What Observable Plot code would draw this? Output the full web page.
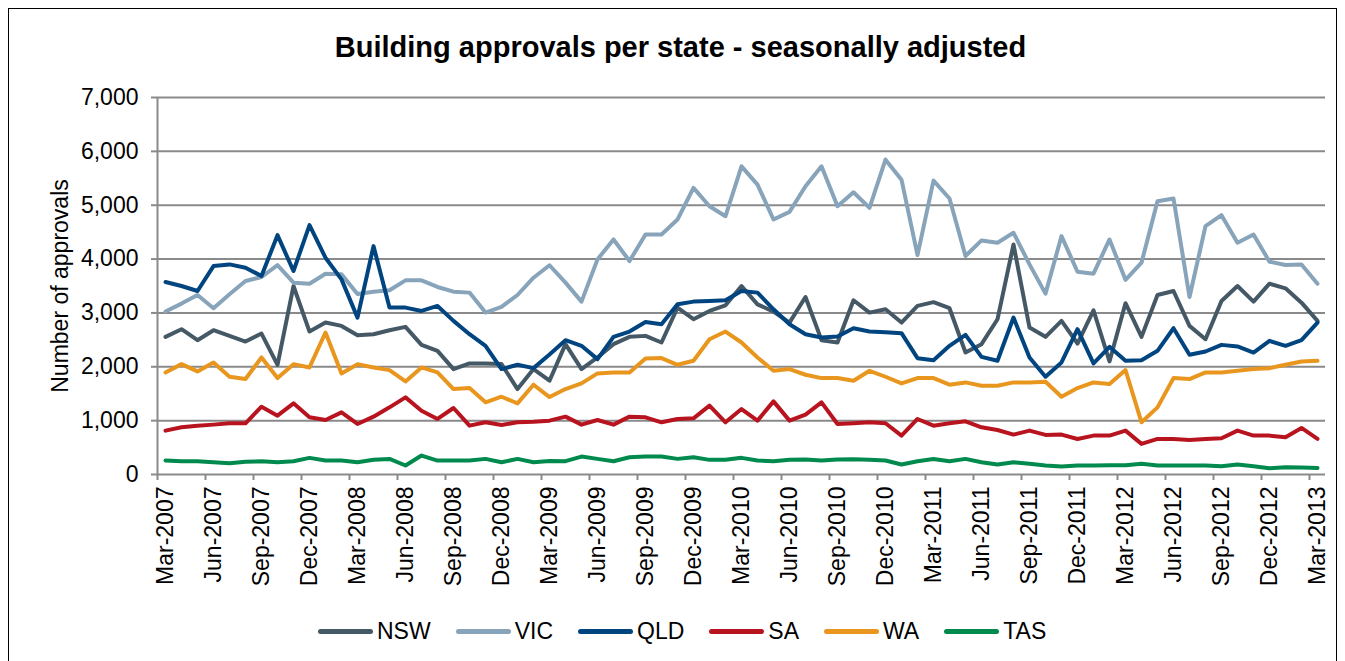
<!DOCTYPE html>
<html>
<head>
<meta charset="utf-8">
<script src="https://cdn.jsdelivr.net/npm/d3@7"></script>
<script src="https://cdn.jsdelivr.net/npm/@observablehq/plot@0.6"></script>
<style>
  body { margin: 0; background: #fff; font-family: "Liberation Sans", Arial, sans-serif; }
  #wrap { position: relative; width: 1345px; height: 661px; overflow: hidden; background: #fff; }
  #frame { position: absolute; left: 8px; top: 8px; width: 1327px; height: 700px; border: 1px solid #000; }
  #title { position: absolute; left: 8px; width: 1345px; top: 30px; text-align: center; font-weight: bold; font-size: 29px; line-height: 34px; color: #000; }
  #chart { position: absolute; left: 0; top: 70px; }
  #legend { position: absolute; left: 318px; top: 617px; display: flex; align-items: center; gap: 25px; font-size: 23px; line-height: 28px; color: #000; }
  .item { display: flex; align-items: center; gap: 4px; }
  .sw { width: 55px; height: 5px; border-radius: 3px; }
</style>
</head>
<body>
<div id="wrap">
  <div id="frame"></div>
  <div id="title">Building approvals per state - seasonally adjusted</div>
  <div id="chart"></div>
  <div id="legend"></div>
</div>
<script>
const states = ["NSW", "VIC", "QLD", "SA", "WA", "TAS"];
const colors = ["#455866", "#87a4ba", "#004580", "#b8141f", "#e9961f", "#008a4e"];
const yLabel = "Number of approvals";
const tickLabels = ["Mar-2007","Jun-2007","Sep-2007","Dec-2007","Mar-2008","Jun-2008","Sep-2008","Dec-2008",
  "Mar-2009","Jun-2009","Sep-2009","Dec-2009","Mar-2010","Jun-2010","Sep-2010","Dec-2010",
  "Mar-2011","Jun-2011","Sep-2011","Dec-2011","Mar-2012","Jun-2012","Sep-2012","Dec-2012","Mar-2013"];

const NSW = [2556,2698,2494,2679,2574,2469,2617,2037,3500,2654,2821,2759,2585,2605,2679,2741,2407,2296,1957,2062,
  2062,2050,1586,1957,1741,2420,1957,2173,2420,2556,2574,2451,3099,2883,3037,3142,3500,3160,3025,2821,
  3296,2494,2451,3235,3006,3068,2821,3130,3200,3087,2265,2420,2883,4272,2728,2556,2852,2432,3049,2099,
  3180,2556,3333,3407,2759,2512,3222,3500,3210,3543,3457,3191,2852];
const VIC = [3025,3173,3333,3087,3346,3593,3667,3889,3562,3543,3728,3716,3352,3395,3420,3605,3605,3482,3395,3377,
  3006,3111,3333,3654,3885,3562,3210,3994,4364,3963,4457,4457,4735,5321,4981,4796,5722,5383,4735,4877,
  5352,5722,4981,5241,4951,5846,5475,4074,5457,5124,4056,4346,4303,4488,3901,3358,4426,3765,3728,4364,
  3614,3932,5074,5124,3296,4611,4815,4303,4457,3951,3889,3901,3543];
const QLD = [3574,3500,3407,3870,3901,3840,3685,4444,3778,4630,4025,3623,2913,4241,3099,3099,3037,3130,2852,2605,
  2389,1957,2037,1975,2230,2494,2389,2142,2556,2654,2833,2790,3160,3210,3222,3235,3407,3377,3068,2790,
  2605,2543,2562,2716,2654,2642,2624,2160,2123,2389,2593,2185,2111,2914,2173,1815,2080,2698,2062,2370,
  2111,2123,2296,2716,2222,2284,2407,2377,2265,2481,2389,2494,2821];
const SA = [815,877,907,926,951,951,1259,1093,1321,1062,1012,1154,938,1074,1247,1432,1185,1031,1235,907,
  969,920,969,981,1000,1074,926,1012,926,1074,1062,969,1031,1043,1278,969,1216,1000,1358,1000,
  1111,1340,938,951,969,951,722,1031,907,951,988,877,827,741,815,735,741,660,722,722,
  815,568,660,660,642,660,673,815,722,722,691,864,660];
const WA = [1895,2049,1914,2080,1815,1772,2173,1790,2049,1988,2636,1877,2049,1988,1938,1728,1988,1895,1586,1605,
  1340,1444,1321,1667,1438,1586,1691,1877,1895,1895,2154,2161,2037,2111,2512,2654,2451,2173,1926,1957,
  1852,1790,1790,1741,1926,1815,1691,1790,1790,1667,1710,1648,1648,1710,1710,1722,1444,1605,1710,1679,
  1940,969,1247,1790,1772,1895,1895,1926,1957,1975,2037,2099,2111];
const TAS = [259,247,247,228,210,235,247,228,247,309,259,259,228,272,290,167,352,259,259,259,
  290,228,290,228,250,247,333,290,247,321,333,333,290,321,272,272,309,259,247,272,
  278,259,278,284,272,259,185,247,287,247,290,228,185,228,198,167,148,167,167,173,
  170,198,167,167,167,167,154,185,154,117,136,130,123];

const series = {NSW, VIC, QLD, SA, WA, TAS};
const rows = states.flatMap(s => series[s].map((v, i) => ({state: s, i, value: v})));
const yTicks = d3.range(0, 7001, 1000);
const labelIdx = tickLabels.map((d, k) => k * 3);
const boundaries = labelIdx.map(i => i - 0.5);

const chart = Plot.plot({
  width: 1345,
  height: 591,
  marginLeft: 157,
  marginRight: 20,
  marginTop: 27,
  marginBottom: 187,
  style: {fontFamily: "'Liberation Sans', Arial, sans-serif", fontSize: "23px", background: "transparent", color: "#000", overflow: "visible"},
  x: {domain: [-0.5, 72.5]},
  y: {domain: [0, 7000]},
  color: {domain: states, range: colors},
  marks: [
    Plot.gridY(yTicks, {stroke: "#8a8a8a", strokeOpacity: 1, strokeWidth: 2}),
    Plot.ruleX([-0.5], {stroke: "#8a8a8a", strokeWidth: 2}),
    Plot.axisY(yTicks, {tickFormat: d3.format(","), tickSize: 6, tickPadding: 13, stroke: "#8a8a8a", strokeWidth: 2, fill: "#000", fontSize: 23, label: null}),
    Plot.axisX(boundaries, {tickSize: 6, tickFormat: () => "", stroke: "#8a8a8a", strokeWidth: 2, label: null}),
    Plot.axisX(labelIdx, {tickSize: 0, tickPadding: 12, tickRotate: -90, tickFormat: i => tickLabels[i / 3], fill: "#000", fontSize: 23, label: null}),
    Plot.text([yLabel], {frameAnchor: "left", dx: -97, rotate: -90, text: d => d, textAnchor: "middle", lineAnchor: "middle", fontSize: 23, fill: "#000"}),
    Plot.line(rows, {x: "i", y: "value", z: "state", stroke: "state", strokeWidth: 4, strokeLinejoin: "round", strokeLinecap: "round"})
  ]
});
document.getElementById("chart").appendChild(chart);

const legend = d3.select("#legend");
states.forEach((s, k) => {
  const it = legend.append("div").attr("class", "item");
  it.append("div").attr("class", "sw").style("background", colors[k]);
  it.append("span").text(s);
});
</script>
</body>
</html>
